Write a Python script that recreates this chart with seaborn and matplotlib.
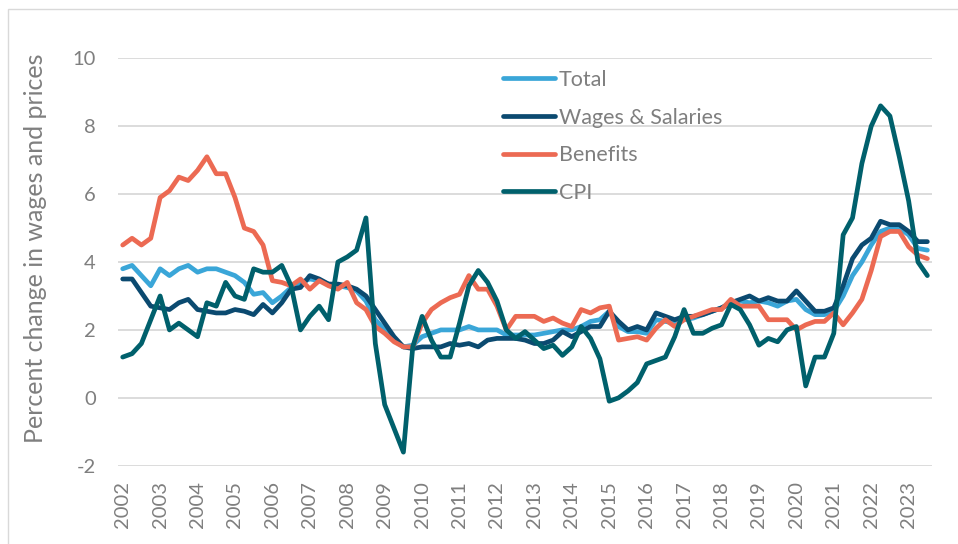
import numpy as np
import pandas as pd
import matplotlib
matplotlib.use('Agg')
import matplotlib.pyplot as plt
import seaborn as sns

# quarterly, 2002Q1 to 2023Q3
years = list(range(2002, 2024))
quarters = [f"{y}Q{q}" for y in years for q in range(1, 5)][:87]

total = [3.8, 3.9, 3.6, 3.3, 3.8, 3.6, 3.8, 3.9, 3.7, 3.8, 3.8, 3.7, 3.6, 3.4, 3.05, 3.1,
         2.8, 3.0, 3.25, 3.4, 3.5, 3.45, 3.35, 3.3, 3.25, 3.15, 2.85, 2.3, 2.0, 1.7, 1.5, 1.55,
         1.8, 1.9, 2.0, 2.0, 2.0, 2.1, 2.0, 2.0, 2.0, 1.85, 1.85, 1.85, 1.85, 1.9, 1.95, 2.0,
         2.0, 2.1, 2.25, 2.3, 2.55, 2.1, 1.95, 1.95, 1.9, 2.3, 2.25, 2.2, 2.3, 2.35, 2.45, 2.55,
         2.65, 2.75, 2.85, 2.8, 2.85, 2.8, 2.7, 2.85, 2.9, 2.6, 2.45, 2.45, 2.55, 3.0, 3.6, 4.0,
         4.5, 4.9, 5.0, 5.0, 4.8, 4.4, 4.35]

wages = [3.5, 3.5, 3.1, 2.7, 2.65, 2.6, 2.8, 2.9, 2.6, 2.55, 2.5, 2.5, 2.6, 2.55, 2.45, 2.75,
         2.5, 2.8, 3.2, 3.25, 3.6, 3.5, 3.35, 3.35, 3.3, 3.2, 3.0, 2.6, 2.2, 1.8, 1.5, 1.45,
         1.5, 1.5, 1.5, 1.6, 1.55, 1.6, 1.5, 1.7, 1.75, 1.75, 1.75, 1.7, 1.6, 1.6, 1.7, 1.95,
         1.8, 1.95, 2.1, 2.1, 2.55, 2.25, 2.0, 2.1, 2.0, 2.5, 2.4, 2.3, 2.4, 2.4, 2.45, 2.55,
         2.65, 2.8, 2.9, 3.0, 2.85, 2.95, 2.85, 2.85, 3.15, 2.85, 2.55, 2.55, 2.65, 3.3, 4.1, 4.5,
         4.7, 5.2, 5.1, 5.1, 4.9, 4.6, 4.6]

benefits = [4.5, 4.7, 4.5, 4.7, 5.9, 6.1, 6.5, 6.4, 6.7, 7.1, 6.6, 6.6, 5.9, 5.0, 4.9, 4.5,
            3.45, 3.4, 3.3, 3.5, 3.2, 3.45, 3.3, 3.2, 3.4, 2.8, 2.6, 2.1, 1.9, 1.65, 1.5, 1.5,
            2.2, 2.6, 2.8, 2.95, 3.05, 3.6, 3.2, 3.2, 2.7, 2.0, 2.4, 2.4, 2.4, 2.25, 2.35, 2.2,
            2.1, 2.6, 2.5, 2.65, 2.7, 1.7, 1.75, 1.8, 1.7, 2.05, 2.3, 2.1, 2.3, 2.4, 2.5, 2.6,
            2.6, 2.9, 2.7, 2.7, 2.7, 2.3, 2.3, 2.3, 2.0, 2.15, 2.25, 2.25, 2.5, 2.15, 2.5, 2.9,
            3.75, 4.75, 4.9, 4.9, 4.45, 4.2, 4.1]

cpi = [1.2, 1.3, 1.6, 2.3, 3.0, 2.0, 2.2, 2.0, 1.8, 2.8, 2.7, 3.4, 3.0, 2.9, 3.8, 3.7,
       3.7, 3.9, 3.3, 2.0, 2.4, 2.7, 2.3, 4.0, 4.15, 4.35, 5.3, 1.6, -0.2, -0.9, -1.6, 1.5,
       2.4, 1.7, 1.2, 1.2, 2.2, 3.3, 3.75, 3.4, 2.85, 2.0, 1.75, 1.95, 1.7, 1.45, 1.55, 1.25,
       1.5, 2.1, 1.75, 1.15, -0.1, 0.0, 0.2, 0.45, 1.0, 1.1, 1.2, 1.8, 2.6, 1.9, 1.9, 2.05,
       2.15, 2.75, 2.6, 2.15, 1.55, 1.75, 1.65, 2.0, 2.1, 0.35, 1.2, 1.2, 1.9, 4.8, 5.3, 6.9,
       8.0, 8.6, 8.3, 7.1, 5.8, 4.0, 3.6]

series_names = ['Total', 'Wages & Salaries', 'Benefits', 'CPI']
colors = ['#3AA6D8', '#0B4A70', '#EC6A53', '#00606C']

df = pd.DataFrame({'Quarter': quarters, 'Idx': np.arange(len(quarters)),
                   'Total': total, 'Wages & Salaries': wages,
                   'Benefits': benefits, 'CPI': cpi})
long = df.melt(id_vars=['Quarter', 'Idx'], var_name='Series', value_name='Change')

sns.set_style('white')
plt.rcParams['font.family'] = ['Lato', 'DejaVu Sans']
plt.rcParams['axes.unicode_minus'] = False

fig = plt.figure(figsize=(9.58, 5.44), dpi=100)
ax = fig.add_axes([0.1232, 0.1439, 0.8497, 0.7489])

sns.lineplot(data=long, x='Idx', y='Change', hue='Series', hue_order=series_names,
             palette=colors, linewidth=3.4, ax=ax,
             solid_capstyle='round', solid_joinstyle='round')

ax.set_xlim(-0.5, 86.5)
ax.set_ylim(-2, 10)
ax.set_yticks(range(-2, 11, 2))
ax.set_xticks(range(0, 87, 4))
ax.set_xticklabels([str(y) for y in years], rotation=90)
ax.tick_params(axis='both', length=0, labelsize=14.5, labelcolor='#7F7F7F')
ax.tick_params(axis='x', pad=11)
ax.tick_params(axis='y', pad=16)

ax.yaxis.grid(True, color='#D9D9D9', linewidth=1.3)
ax.xaxis.grid(False)
for s in ax.spines.values():
    s.set_visible(False)

ax.set_xlabel('')
ax.set_ylabel('Percent change in wages and prices', fontsize=18, color='#7F7F7F')
ax.yaxis.set_label_coords(-0.0875, 0.535)

handles, labels = ax.get_legend_handles_labels()
leg = ax.legend(handles, labels, loc='upper left', bbox_to_anchor=(503 / 958, 1 - 70 / 544),
                bbox_transform=fig.transFigure, frameon=False, fontsize=15.5,
                handlelength=2.4, handletextpad=0.2, labelspacing=0.82,
                borderpad=0, borderaxespad=0)
for line in leg.get_lines():
    line.set_linewidth(3.4)
    line.set_solid_capstyle('round')
for t in leg.get_texts():
    t.set_color('#7F7F7F')

# chart area border (only top and left show in the crop)
fig.add_artist(plt.Rectangle((8 / 958, -0.1), 1.2, 1.1 - 9 / 544, transform=fig.transFigure,
                             fill=False, edgecolor='#D9D9D9', linewidth=1))

plt.savefig('out.png', dpi=100)
plt.close()
